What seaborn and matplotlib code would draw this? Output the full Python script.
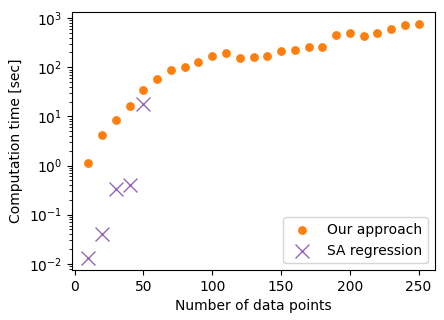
import numpy as np
import pandas as pd
import matplotlib
matplotlib.use("Agg")
import matplotlib.pyplot as plt
import seaborn as sns

ours_n = [10, 20, 30, 40, 50, 60, 70, 80, 90, 100, 110, 120, 130, 140, 150,
          160, 170, 180, 190, 200, 210, 220, 230, 240, 250]
ours_t = [1.12, 4.2, 8.6, 16.5, 34, 57, 88, 102, 130, 172, 198, 155, 162, 172, 218,
          228, 262, 262, 455, 490, 425, 490, 590, 740, 770]
sa_n = [10, 20, 30, 40, 50]
sa_t = [0.0129, 0.040, 0.338, 0.397, 17.6]

fig, ax = plt.subplots(figsize=(4.44, 3.2), dpi=100)
fig.subplots_adjust(left=0.162, right=0.98, top=0.9625, bottom=0.156)

df_ours = pd.DataFrame({"n": ours_n, "t": ours_t})
df_sa = pd.DataFrame({"n": sa_n, "t": sa_t})

sns.scatterplot(data=df_ours, x="n", y="t", ax=ax, color="#ff7f0e", marker="o",
                s=40, linewidth=0, label="Our approach", zorder=3)
sns.scatterplot(data=df_sa, x="n", y="t", ax=ax, color="#9467bd", marker="x",
                s=100, linewidth=1.0, label="SA regression", zorder=3)

ax.set_yscale("log")
ax.set_xlabel("Number of data points")
ax.set_ylabel("Computation time [sec]")
ax.legend(loc="lower right")

fig.savefig("out.png", dpi=100)
